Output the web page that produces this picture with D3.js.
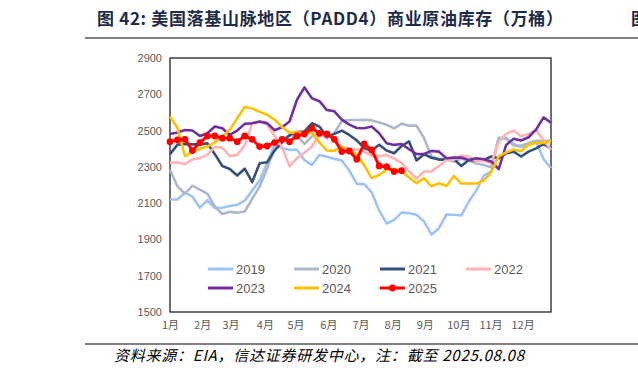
<!DOCTYPE html>
<html>
<head>
<meta charset="utf-8">
<script src="https://cdn.jsdelivr.net/npm/d3@7"></script>
<style>
  body { margin: 0; background: #fff; }
  svg { display: block; }
</style>
</head>
<body>
<div id="chart"></div>
<script>
// 周度数据（万桶），每年 52 周
const years = ["2019", "2020", "2021", "2022", "2023", "2024", "2025"];
const colors = ["#9dc3f7", "#adb9ca", "#35507a", "#ffb3b3", "#7030a0", "#ffc000", "#ff0000"];

const v2019 = [2120, 2120, 2157, 2137, 2075, 2116, 2073, 2075, 2084, 2091, 2114, 2169, 2225, 2320, 2421, 2403, 2394, 2394, 2337, 2310, 2365, 2356, 2344, 2335, 2280, 2206, 2205, 2160, 2059, 1988, 2008, 2048, 2045, 2036, 1999, 1926, 1962, 2037, 2036, 2032, 2109, 2169, 2252, 2274, 2460, 2460, 2426, 2408, 2426, 2440, 2343, 2293];
const v2020 = [2284, 2192, 2152, 2196, 2174, 2152, 2082, 2040, 2052, 2047, 2054, 2123, 2192, 2290, 2403, 2458, 2472, 2472, 2426, 2468, 2490, 2455, 2487, 2553, 2558, 2558, 2560, 2556, 2545, 2532, 2512, 2538, 2527, 2527, 2459, 2357, 2344, 2340, 2330, 2345, 2335, 2318, 2310, 2298, 2458, 2455, 2418, 2416, 2431, 2444, 2442, 2446];
const v2021 = [2370, 2422, 2426, 2424, 2424, 2430, 2370, 2305, 2288, 2252, 2290, 2216, 2320, 2325, 2390, 2435, 2475, 2492, 2495, 2540, 2522, 2466, 2482, 2500, 2476, 2446, 2403, 2390, 2422, 2390, 2375, 2415, 2440, 2335, 2370, 2350, 2340, 2340, 2342, 2305, 2338, 2334, 2338, 2357, 2347, 2375, 2384, 2357, 2384, 2402, 2425, 2402];
const v2022 = [2322, 2325, 2314, 2341, 2348, 2366, 2410, 2406, 2359, 2366, 2417, 2541, 2548, 2532, 2472, 2408, 2304, 2348, 2378, 2412, 2477, 2472, 2460, 2408, 2398, 2395, 2384, 2362, 2360, 2365, 2346, 2322, 2275, 2236, 2274, 2275, 2304, 2339, 2340, 2362, 2357, 2330, 2335, 2318, 2436, 2482, 2500, 2469, 2481, 2504, 2445, 2394];
const v2023 = [2481, 2489, 2503, 2500, 2470, 2485, 2522, 2513, 2476, 2500, 2537, 2540, 2550, 2541, 2502, 2518, 2550, 2670, 2738, 2678, 2662, 2613, 2606, 2560, 2533, 2514, 2513, 2522, 2485, 2430, 2421, 2426, 2397, 2371, 2371, 2388, 2384, 2347, 2351, 2351, 2338, 2347, 2342, 2330, 2287, 2421, 2455, 2445, 2463, 2505, 2573, 2543];
const v2024 = [2578, 2515, 2360, 2380, 2400, 2412, 2435, 2468, 2504, 2568, 2630, 2622, 2603, 2587, 2560, 2520, 2488, 2490, 2486, 2488, 2435, 2390, 2388, 2412, 2390, 2370, 2308, 2238, 2256, 2284, 2290, 2275, 2242, 2210, 2238, 2193, 2210, 2195, 2250, 2208, 2208, 2208, 2224, 2270, 2358, 2380, 2396, 2386, 2422, 2432, 2432, 2440];
const v2025 = [2439, 2448, 2452, 2390, 2434, 2470, 2470, 2458, 2458, 2439, 2470, 2452, 2412, 2415, 2434, 2452, 2439, 2470, 2481, 2513, 2485, 2481, 2452, 2384, 2388, 2342, 2426, 2393, 2305, 2301, 2274, 2279];
const seriesValues = [v2019, v2020, v2021, v2022, v2023, v2024, v2025];

const months = ["1月", "2月", "3月", "4月", "5月", "6月", "7月", "8月", "9月", "10月", "11月", "12月"];
const monthWeek = [0, 4.3, 8.1, 12.7, 16.8, 21.2, 25.5, 29.8, 34.1, 38.6, 42.9, 47.2];
const yTicks = [1500, 1700, 1900, 2100, 2300, 2500, 2700, 2900];

const width = 638, height = 374;
const plot = { left: 170, right: 551, top: 58, bottom: 312 };

const svg = d3.select("#chart").append("svg")
  .attr("width", width).attr("height", height);

// 标题
svg.append("text")
  .attr("x", 97).attr("y", 25)
  .style("font-family", "'Noto Sans CJK SC', sans-serif")
  .style("font-size", "17px").style("font-weight", "bold")
  .attr("fill", "#1f2c48")
  .attr("textLength", 466).attr("lengthAdjust", "spacing")
  .text("图 42:  美国落基山脉地区（PADD4）商业原油库存（万桶）");
svg.append("text")
  .attr("x", 631).attr("y", 25)
  .style("font-family", "'Noto Sans CJK SC', sans-serif")
  .style("font-size", "17px").style("font-weight", "bold")
  .attr("fill", "#1f2c48")
  .text("图");

svg.append("line").attr("x1", 85).attr("x2", 638).attr("y1", 38).attr("y2", 38)
  .attr("stroke", "#808080").attr("stroke-width", 2);
svg.append("line").attr("x1", 85).attr("x2", 638).attr("y1", 344).attr("y2", 344)
  .attr("stroke", "#808080").attr("stroke-width", 2);

// 来源
svg.append("text")
  .attr("x", 114).attr("y", 361)
  .style("font-family", "'Noto Sans CJK SC', sans-serif")
  .style("font-size", "15px").style("font-style", "italic")
  .attr("fill", "#000")
  .attr("textLength", 410).attr("lengthAdjust", "spacing")
  .text("资料来源：EIA，信达证券研发中心，注：截至 2025.08.08");

// 比例尺
const x = d3.scaleLinear().domain([0, 51]).range([plot.left, plot.right]);
const y = d3.scaleLinear().domain([1500, 2900]).range([plot.bottom, plot.top]);

const yAxis = d3.axisLeft(y).tickValues(yTicks).tickFormat(d3.format("d"))
  .tickSize(0).tickPadding(8);
svg.append("g")
  .attr("transform", `translate(${plot.left},0)`)
  .call(yAxis)
  .call(g => g.select(".domain").remove())
  .call(g => g.selectAll("text")
    .style("font-family", "'Liberation Sans', Arial, sans-serif")
    .style("font-size", "11px").attr("fill", "#595959"));

const xAxis = d3.axisBottom(x).tickValues(monthWeek)
  .tickFormat((d, i) => months[i]).tickSize(0).tickPadding(9);
svg.append("g")
  .attr("transform", `translate(0,${plot.bottom})`)
  .call(xAxis)
  .call(g => g.select(".domain").remove())
  .call(g => g.selectAll("text")
    .style("font-family", "'Noto Sans CJK SC', sans-serif")
    .style("font-size", "11px").attr("fill", "#595959"));

// 绘图区边框
svg.append("rect")
  .attr("x", plot.left).attr("y", plot.top)
  .attr("width", plot.right - plot.left).attr("height", plot.bottom - plot.top)
  .attr("fill", "none").attr("stroke", "#222").attr("stroke-width", 1.3);

const line = d3.line().x((d, i) => x(i)).y(d => y(d));

svg.append("g").selectAll("path")
  .data(seriesValues)
  .enter().append("path")
  .attr("d", d => line(d))
  .attr("fill", "none")
  .attr("stroke", (d, i) => colors[i])
  .attr("stroke-width", (d, i) => i === 6 ? 3 : 2.6)
  .attr("stroke-linejoin", "round");

svg.append("g").selectAll("circle")
  .data(v2025)
  .enter().append("circle")
  .attr("cx", (d, i) => x(i))
  .attr("cy", d => y(d))
  .attr("r", 3.4)
  .attr("fill", colors[6]);

// 图例
const legend = svg.append("g")
  .selectAll("g")
  .data(years)
  .enter().append("g")
  .attr("transform", (d, i) => `translate(${208 + (i % 4) * 86},${269 + Math.floor(i / 4) * 19})`);

legend.append("line")
  .attr("x1", 0).attr("x2", 25)
  .attr("stroke", (d, i) => colors[i]).attr("stroke-width", 3);
legend.filter((d, i) => i === 6).append("circle")
  .attr("cx", 12.5).attr("r", 3.4).attr("fill", colors[6]);
legend.append("text")
  .attr("x", 28).attr("y", 4.5)
  .style("font-family", "'Liberation Sans', Arial, sans-serif")
  .style("font-size", "13px").attr("fill", "#595959")
  .text(d => d);
</script>
</body>
</html>
